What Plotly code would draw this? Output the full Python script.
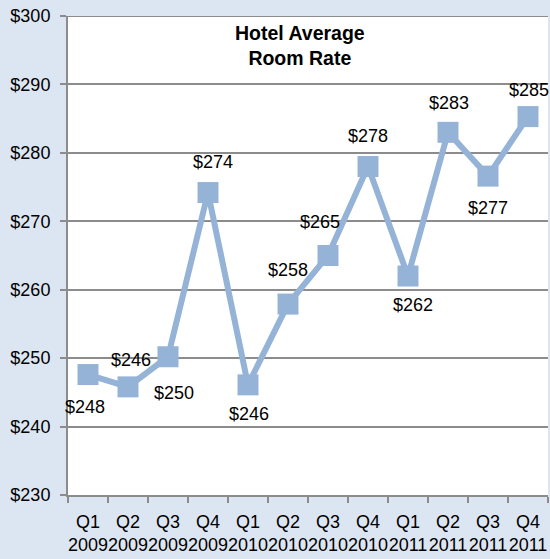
import plotly.graph_objects as go

quarters = ["Q1", "Q2", "Q3", "Q4"] * 3
years = ["2009"] * 4 + ["2010"] * 4 + ["2011"] * 4
categories = [f"{q}<br>{y}" for q, y in zip(quarters, years)]
rates = [247.6, 245.8, 250.2, 274.2, 246.1, 257.9, 265.0, 278.0, 262.0, 283.0, 276.6, 285.3]
labels = ["$248", "$246", "$250", "$274", "$246", "$258", "$265", "$278", "$262", "$283", "$277", "$285"]
# label offsets in pixels (x, y) relative to the marker
label_dx = [-3, 3, 6, 5, 1, 0, -8, 0, 5, 1, 0, 1]
label_dy = [-32, 27, -36, 31, -29, 34, 34, 31, -29, 29, -32, 27]
y_ticks = [230, 240, 250, 260, 270, 280, 290, 300]
y_tick_text = [f"${v}" for v in y_ticks]

color = "#95B3D7"
grid = "#8C8C8C"
font_family = "Liberation Sans, Arial, sans-serif"

fig = go.Figure()
fig.add_trace(go.Scatter(
    x=categories, y=rates, mode="lines+markers",
    line=dict(color=color, width=6),
    marker=dict(symbol="square", size=21, color=color),
    hoverinfo="skip",
))

for c, v, t, dx, dy in zip(categories, rates, labels, label_dx, label_dy):
    fig.add_annotation(x=c, y=v, text=t, showarrow=False, xshift=dx, yshift=dy,
                       font=dict(size=18, color="#000000", family=font_family))

fig.add_annotation(xref="paper", yref="paper", x=0.483, y=0.992, yanchor="top",
                   text="<b>Hotel Average<br>Room Rate</b>", showarrow=False,
                   font=dict(size=19.5, color="#000000", family=font_family))

# top border gridline at the maximum tick
fig.add_shape(type="line", xref="paper", yref="y", x0=0, x1=1, y0=y_ticks[-1], y1=y_ticks[-1],
              line=dict(color=grid, width=2), layer="below")

fig.update_layout(
    width=550, height=559,
    margin=dict(l=68, r=2, t=16, b=64),
    paper_bgcolor="#DCE6F2",
    plot_bgcolor="#FFFFFF",
    showlegend=False,
    font=dict(family=font_family, size=18, color="#000000"),
    xaxis=dict(
        type="category", range=[-0.5, 11.5],
        showline=True, linecolor=grid, linewidth=2,
        showgrid=False, ticks="outside", tickson="boundaries",
        ticklen=6, tickcolor=grid, tickwidth=2, tickangle=0,
        ticklabelstandoff=9,
        tickfont=dict(size=18),
    ),
    yaxis=dict(
        range=[230, 300], tickvals=y_ticks, ticktext=y_tick_text,
        showline=True, linecolor=grid, linewidth=2,
        showgrid=True, gridcolor=grid, gridwidth=2,
        ticks="outside", ticklen=6, tickcolor=grid, tickwidth=2,
        ticklabelstandoff=6,
        tickfont=dict(size=18), zeroline=False,
    ),
)

fig.write_html("out.html")
